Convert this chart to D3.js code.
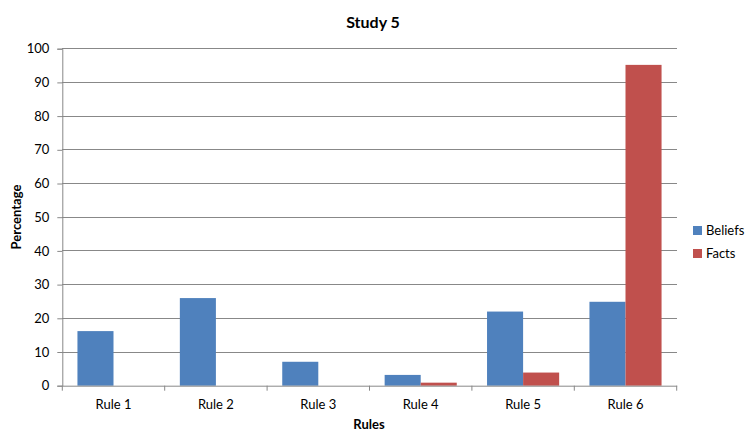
<!DOCTYPE html>
<html><head><meta charset="utf-8">
<script src="https://cdn.jsdelivr.net/npm/d3@7"></script>
<style>body{margin:0;background:#fff;} text{font-family:Lato,"Open Sans",sans-serif;fill:#000;}</style>
</head><body><svg id="c" width="746" height="431"></svg>
<script>
const categories = ["Rule 1","Rule 2","Rule 3","Rule 4","Rule 5","Rule 6"];
const seriesNames = ["Beliefs","Facts"];
const beliefs = [16.2, 26, 7.1, 3.2, 22, 24.9];
const facts = [0, 0, 0, 0.9, 3.9, 95.2];
const yTicks = [0,10,20,30,40,50,60,70,80,90,100];
const colors = ["#4F81BD","#C0504D"];

const svg = d3.select("#c");
const L = 62.3, R = 676.7, T = 48.7, B = 385.7;
const x = d3.scaleBand().domain(categories).range([L, R]).paddingInner(0).paddingOuter(0);
const xi = d3.scaleBand().domain(seriesNames).range([0, x.bandwidth()]).paddingInner(0).paddingOuter(0.42);
const y = d3.scaleLinear().domain([0,100]).range([B, T]);

// gridlines
svg.append("g").selectAll("line").data(yTicks.filter(d=>d>0)).join("line")
  .attr("x1", L).attr("x2", R).attr("y1", d=>y(d)).attr("y2", d=>y(d))
  .attr("stroke", "#888").attr("stroke-width", 1).attr("shape-rendering","crispEdges");

// bars
const data = categories.map((c,i)=>({c, vals:[beliefs[i], facts[i]]}));
const g = svg.append("g");
data.forEach(d=>{
  d.vals.forEach((v,j)=>{
    if (v<=0) return;
    g.append("rect").attr("x", x(d.c)+xi(seriesNames[j])).attr("width", xi.bandwidth())
      .attr("y", y(v)).attr("height", y(0)-y(v)).attr("fill", colors[j]);
  });
});

// y axis
const ya = svg.append("g").attr("transform", `translate(${L},0)`)
  .call(d3.axisLeft(y).tickValues(yTicks).tickSize(5).tickPadding(8));
ya.select(".domain").attr("stroke","#888");
ya.selectAll(".tick line").attr("stroke","#888");
ya.selectAll(".tick text").attr("font-size", 13).attr("font-family","Lato,'Open Sans',sans-serif").attr("fill","#000");

// x axis
const xa = svg.append("g").attr("transform", `translate(0,${B})`)
  .call(d3.axisBottom(x).tickSize(0).tickPadding(14));
xa.select(".domain").attr("stroke","#888");
xa.selectAll(".tick text").attr("font-size", 13).attr("font-family","Lato,'Open Sans',sans-serif").attr("fill","#000");
const bounds = categories.map(c=>x(c)).concat([R]);
svg.append("g").selectAll("line").data(bounds).join("line")
  .attr("x1", d=>d).attr("x2", d=>d).attr("y1", B).attr("y2", B+5).attr("stroke","#888");

// titles
svg.append("text").attr("x", 373).attr("y", 28).attr("text-anchor","middle")
  .attr("font-size", 16).attr("font-weight","bold").text("Study 5");
svg.append("text").attr("x", 369).attr("y", 429).attr("text-anchor","middle")
  .attr("font-size", 13).attr("font-weight","bold").text("Rules");
svg.append("text").attr("transform","translate(21,217) rotate(-90)").attr("text-anchor","middle")
  .attr("font-size", 13).attr("font-weight","bold").text("Percentage");

// legend
const lg = svg.append("g").selectAll("g").data(seriesNames).join("g")
  .attr("transform",(d,i)=>`translate(693,${226+i*23})`);
lg.append("rect").attr("width",9).attr("height",9).attr("fill",(d,i)=>colors[i]);
lg.append("text").attr("x",13).attr("y",9).attr("font-size",13).text(d=>d);
</script></body></html>
